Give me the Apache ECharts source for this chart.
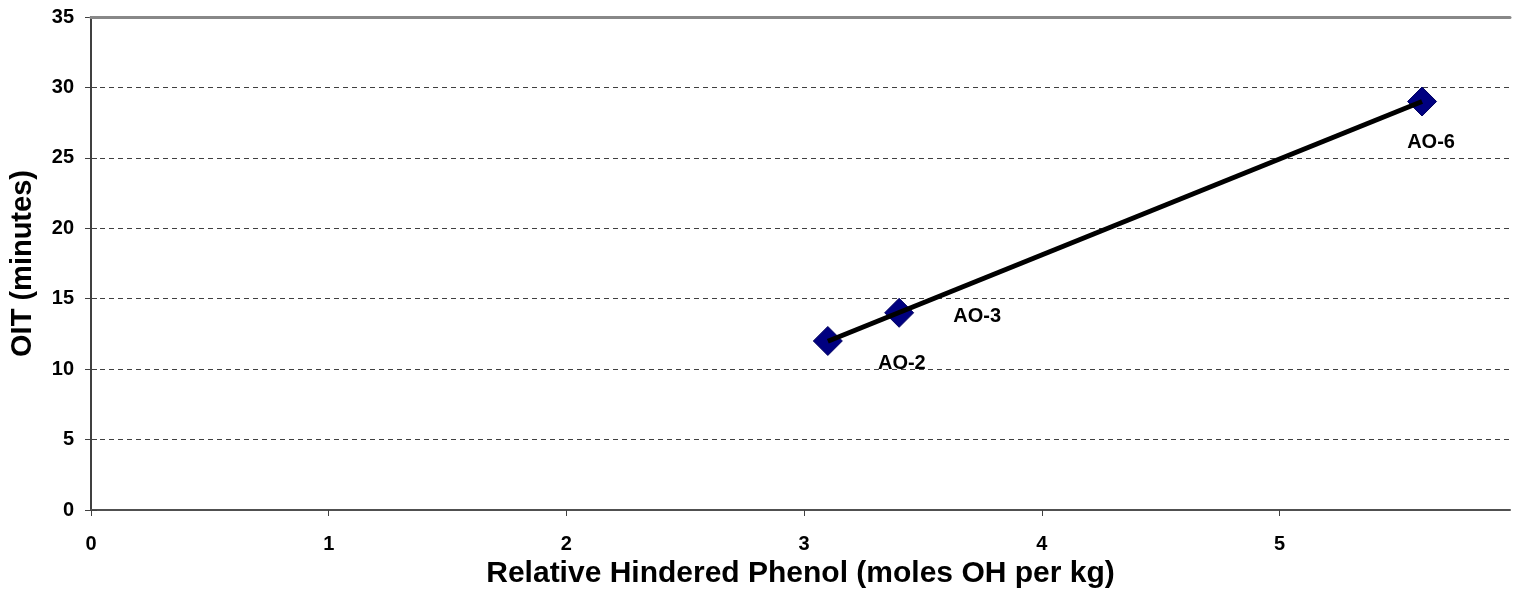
<!DOCTYPE html>
<html>
<head>
<meta charset="utf-8">
<script src="https://cdn.jsdelivr.net/npm/echarts@6/dist/echarts.min.js"></script>
<style>html,body{margin:0;padding:0;background:#fff}#c{width:1522px;height:607px}</style>
</head>
<body>
<div id="c"></div>
<script>
var names = ['AO-2', 'AO-3', 'AO-6'];
var phenol = [3.1, 3.4, 5.6];
var oit = [12, 14, 29];
var xTicks = [0, 1, 2, 3, 4, 5];
var yTicks = [0, 5, 10, 15, 20, 25, 30, 35];

var labelOffsets = [[74, 23], [78, 4], [9, 41]];

// least-squares trendline from the data
var n = phenol.length, mx = 0, my = 0;
for (var i = 0; i < n; i++) { mx += phenol[i]; my += oit[i]; }
mx /= n; my /= n;
var sxx = 0, sxy = 0;
for (var i = 0; i < n; i++) { sxx += (phenol[i] - mx) * (phenol[i] - mx); sxy += (phenol[i] - mx) * (oit[i] - my); }
var slope = sxy / sxx, icpt = my - slope * mx;
var xMin = Math.min.apply(null, phenol), xMax = Math.max.apply(null, phenol);
var trend = [[xMin, icpt + slope * xMin], [xMax, icpt + slope * xMax]];

var font = 'Liberation Sans, Arial, sans-serif';
var pts = phenol.map(function (x, i) {
  return {
    value: [x, oit[i]], name: names[i],
    label: { show: true, position: 'inside', offset: labelOffsets[i], formatter: names[i],
      color: '#000', opacity: 1, fontFamily: font, fontWeight: 'bold', fontSize: 20 }
  };
});

var chart = echarts.init(document.getElementById('c'));
chart.setOption({
  animation: false,
  grid: { left: 91, right: 12, top: 17, bottom: 97, containLabel: false },
  xAxis: [{
    type: 'value', min: 0, max: 5.97, interval: 1,
    name: 'Relative Hindered Phenol (moles OH per kg)',
    nameLocation: 'middle', nameGap: 49,
    nameTextStyle: { fontFamily: font, fontWeight: 'bold', fontSize: 30, color: '#000' },
    axisLine: { show: true, lineStyle: { color: '#505050', width: 2 } },
    axisTick: { show: true, inside: false, length: 6, lineStyle: { color: '#404040', width: 1 } },
    axisLabel: { margin: 24, fontFamily: font, fontWeight: 'bold', fontSize: 20, color: '#000', showMaxLabel: false,
      formatter: function (v) { return xTicks.indexOf(v) >= 0 ? String(v) : ''; } },
    splitLine: { show: false }
  }, {
    type: 'value', position: 'top', min: 0, max: 5.97, z: 20,
    axisLine: { show: true, onZero: false, lineStyle: { color: '#888888', width: 3 } },
    axisTick: { show: false }, axisLabel: { show: false }, splitLine: { show: false }
  }],
  yAxis: [{
    type: 'value', min: 0, max: 35, interval: 5,
    name: 'OIT (minutes)', nameLocation: 'middle', nameGap: 54,
    nameTextStyle: { fontFamily: font, fontWeight: 'bold', fontSize: 29, color: '#000' },
    axisLine: { show: true, lineStyle: { color: '#404040', width: 2 } },
    axisTick: { show: true, inside: false, length: 6, lineStyle: { color: '#404040', width: 1 } },
    axisLabel: { margin: 17, fontFamily: font, fontWeight: 'bold', fontSize: 20, color: '#000',
      formatter: function (v) { return yTicks.indexOf(v) >= 0 ? String(v) : ''; } },
    splitLine: { show: true, lineStyle: { color: '#404040', width: 1, type: [5, 4] } }
  }, {
    type: 'value', position: 'left', min: 0, max: 35, interval: 5,
    axisLine: { show: false },
    axisTick: { show: true, inside: true, length: 6, lineStyle: { color: '#404040', width: 1 } },
    axisLabel: { show: false }, splitLine: { show: false }
  }],
  series: [{
    type: 'scatter', data: pts, symbol: 'diamond', symbolSize: 29, z: 2,
    itemStyle: { color: '#000080', opacity: 1, borderColor: '#000060', borderWidth: 1 },
    emphasis: { disabled: true }
  }, {
    type: 'line', data: trend, showSymbol: false, symbol: 'none', z: 3,
    lineStyle: { color: '#000', width: 5 }
  }]
});
</script>
</body>
</html>
